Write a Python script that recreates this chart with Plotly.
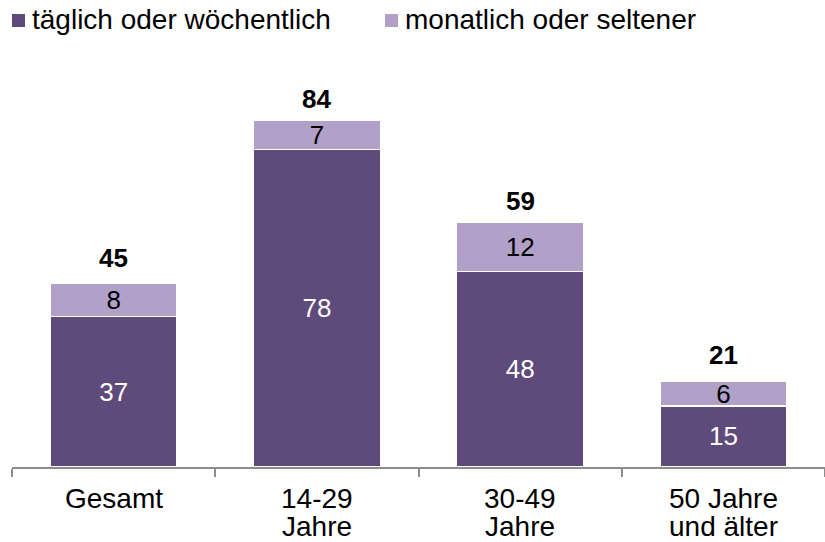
import plotly.graph_objects as go

categories = ["Gesamt", "14-29<br>Jahre", "30-49<br>Jahre", "50 Jahre<br>und älter"]
taeglich = [37, 78, 48, 15]
monatlich = [8, 7, 12, 6]
totals = [45, 84, 59, 21]
series_names = ["täglich oder wöchentlich", "monatlich oder seltener"]

dark = "#5F4B7B"
light = "#B1A0C7"
font = "Liberation Sans, Arial, sans-serif"

W, H = 825, 542
L, R, T, B = 12, 0, 80, 75
PW, PH = W - L - R, H - T - B


def px_x(px):
    return (px - L) / PW


def px_y(py):
    return (H - B - py) / PH


fig = go.Figure()
fig.add_trace(go.Bar(
    x=categories, y=taeglich, name=series_names[0],
    marker=dict(color=dark, line=dict(color="white", width=1.5)),
    text=taeglich, textposition="inside", insidetextanchor="middle", textangle=0,
    textfont=dict(color="white", size=26, family=font),
))
fig.add_trace(go.Bar(
    x=categories, y=monatlich, name=series_names[1],
    marker=dict(color=light, line=dict(color="white", width=1.5)),
    text=monatlich, textposition="inside", insidetextanchor="middle", textangle=0,
    textfont=dict(color="black", size=26, family=font),
))
for c, t in zip(categories, totals):
    fig.add_annotation(x=c, y=t, text="<b>%d</b>" % t, showarrow=False,
                       yanchor="middle", yshift=26,
                       font=dict(size=26, color="black", family=font))

# category labels (two lines with tighter spacing)
for c in categories:
    for i, line in enumerate(c.split("<br>")):
        fig.add_annotation(x=c, xref="x", y=0, yref="paper", text=line,
                           showarrow=False, yanchor="middle", yshift=-(31 + 28 * i),
                           borderpad=0, height=27,
                           font=dict(size=28, color="black", family=font))

# legend
leg = [(12, series_names[0], dark), (385, series_names[1], light)]
for x0, name, col in leg:
    fig.add_shape(type="rect", xref="paper", yref="paper",
                  x0=px_x(x0), x1=px_x(x0 + 13), y0=px_y(27), y1=px_y(14),
                  fillcolor=col, line=dict(width=0))
    fig.add_annotation(xref="paper", yref="paper", x=px_x(x0 + 18), y=px_y(20),
                       text=name, showarrow=False, xanchor="left", yanchor="middle",
                       font=dict(size=28, color="black", family=font))

fig.update_layout(
    width=W, height=H,
    barmode="stack", bargap=0.375,
    plot_bgcolor="white", paper_bgcolor="white",
    margin=dict(l=L, r=R, t=T, b=B),
    font=dict(family=font, size=28, color="black"),
    uniformtext=dict(minsize=26, mode="show"),
    showlegend=False,
)
fig.update_xaxes(showline=True, linecolor="#8C8C8C", linewidth=2,
                 ticks="outside", tickson="boundaries", ticklen=8,
                 tickcolor="#8C8C8C", tickwidth=2,
                 showticklabels=False, automargin=False)
fig.update_yaxes(range=[0, 95], visible=False, showgrid=False)

fig.write_html("out.html", config={"displayModeBar": False})
with open("out.html", encoding="utf-8") as f:
    html = f.read()
html = html.replace("<head>", "<head><style>html,body{margin:0;padding:0;overflow:hidden}</style>", 1)
with open("out.html", "w", encoding="utf-8") as f:
    f.write(html)
